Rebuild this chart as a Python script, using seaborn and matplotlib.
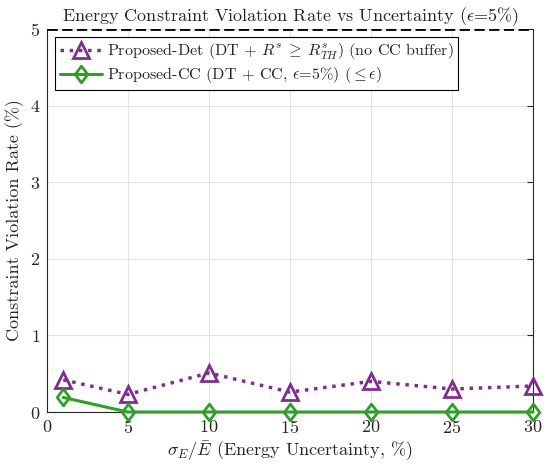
import pandas as pd
import matplotlib
matplotlib.use("Agg")
import matplotlib.pyplot as plt
from matplotlib.path import Path
import seaborn as sns

# data
sigma_pct = [1, 5, 10, 15, 20, 25, 30]
det_rate = [0.42, 0.23, 0.51, 0.26, 0.40, 0.30, 0.34]
cc_rate = [0.19, 0.0, 0.0, 0.0, 0.0, 0.0, 0.0]
epsilon_pct = 5

label_det = r"Proposed-Det (DT + $R^s \;\geq\; R^s_{TH}$) (no CC buffer)"
label_cc = r"Proposed-CC (DT + CC, $\epsilon$=5%) ($\leq \epsilon$)"

sns.set_theme(style="whitegrid")
plt.rcParams["font.family"] = "serif"
plt.rcParams["font.serif"] = ["cmr10", "DejaVu Serif"]
plt.rcParams["mathtext.fontset"] = "cm"
plt.rcParams["axes.formatter.use_mathtext"] = True

df_det = pd.DataFrame({"sigma": sigma_pct, "rate": det_rate})
df_cc = pd.DataFrame({"sigma": sigma_pct, "rate": cc_rate})

# diamond a bit wider than matplotlib's thin one
diamond = Path([(0, 1), (0.75, 0), (0, -1), (-0.75, 0), (0, 1)],
               [Path.MOVETO, Path.LINETO, Path.LINETO, Path.LINETO, Path.CLOSEPOLY])

fig = plt.figure(figsize=(5.5, 4.69), dpi=100)
ax = fig.add_axes([0.0855, 0.1215, 0.8835, 0.8165])

purple = "#7E2F8E"
green = "#2EA02A"

sns.lineplot(data=df_det, x="sigma", y="rate", ax=ax, color=purple,
             linestyle=":", linewidth=2.5, marker="^", markersize=11,
             markerfacecolor="none", markeredgecolor=purple,
             markeredgewidth=2, label=label_det, clip_on=False, zorder=6)
sns.lineplot(data=df_cc, x="sigma", y="rate", ax=ax, color=green,
             linestyle="-", linewidth=2.2, marker=diamond, markersize=12,
             markerfacecolor="none", markeredgecolor=green,
             markeredgewidth=2, label=label_cc, clip_on=False, zorder=6)

ax.axhline(epsilon_pct, color="black", linestyle="--", linewidth=2, zorder=5)

ax.set_xlim(0, 30)
ax.set_ylim(0, 5)
ax.set_xticks([0, 5, 10, 15, 20, 25, 30])
ax.set_yticks([0, 1, 2, 3, 4, 5])
ax.grid(True, color="#e4e4e4", linewidth=0.8)
ax.set_facecolor("white")
for side in ["left", "right", "bottom"]:
    ax.spines[side].set_visible(True)
    ax.spines[side].set_color("#262626")
    ax.spines[side].set_linewidth(0.8)
ax.spines["top"].set_visible(False)
ax.tick_params(direction="in", length=4, width=0.8, right=True, top=False,
               labelsize=13, colors="#262626", pad=5)

ax.set_xlabel(r"$\sigma_E/\bar{E}$ (Energy Uncertainty, %)", fontsize=13, labelpad=2)
ax.set_ylabel("Constraint Violation Rate (%)", fontsize=13, labelpad=4)
ax.set_title(r"Energy Constraint Violation Rate vs Uncertainty ($\epsilon$=5%)",
             fontsize=13, pad=6)

leg = ax.legend(loc="upper left", fontsize=11.6, frameon=True, fancybox=False,
                framealpha=1, edgecolor="black", borderpad=0.3,
                handlelength=2.6, handletextpad=0.3, labelspacing=0.2,
                borderaxespad=0.5)
leg.get_frame().set_linewidth(0.8)
leg.set_zorder(10)

fig.savefig("out.png", dpi=100)
